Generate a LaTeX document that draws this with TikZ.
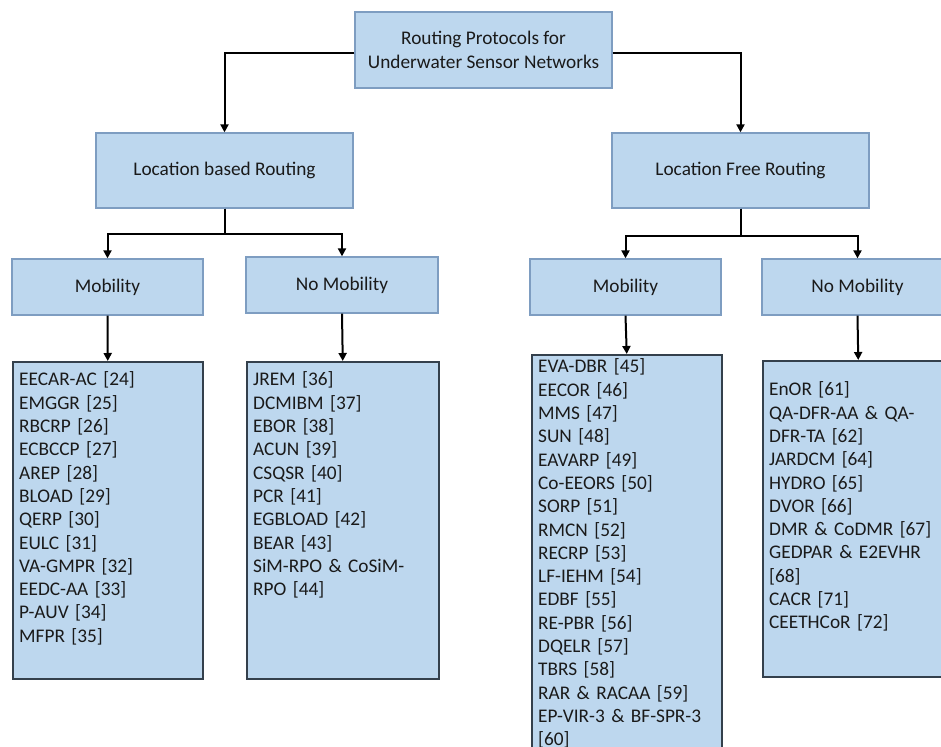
\documentclass[tikz,border=0pt]{standalone}
\usepackage{fontspec}
\setmainfont{Carlito}
\usetikzlibrary{arrows.meta}
\definecolor{boxfill}{HTML}{BDD7EE}
\definecolor{catline}{HTML}{7E9DC1}
\definecolor{listline}{HTML}{34404C}
\definecolor{ink}{HTML}{1A1A1A}
\tikzset{
  base/.style={fill=boxfill, inner sep=0pt, text=ink,
    font=\fontsize{19.3bp}{23.3bp}\selectfont},
  catbox/.style={base, draw=catline, line width=1.3bp, align=center},
  listbox/.style={base, draw=listline, line width=1.5bp},
  listtext/.style={inner sep=0pt, text=ink, anchor=base west, text width=190bp,
    align=left, font=\fontsize{19.3bp}{23.3bp}\selectfont},
  link/.style={line width=2bp, -{Triangle[length=8bp,width=8bp]}},
}
\begin{document}
\begin{tikzpicture}[x=1bp,y=-1bp]
\useasboundingbox (0,0) rectangle (941,747);
\clip (0,0) rectangle (941,747);

% top level
\node[catbox, minimum width=257bp, minimum height=76bp] (root) at (483.5,50)
  {Routing Protocols for\\Underwater Sensor Networks};

% routing families
\node[catbox, minimum width=257bp, minimum height=75bp] (lbr) at (224.5,170.5) {Location based Routing};
\node[catbox, minimum width=257bp, minimum height=75bp] (lfr) at (740.5,170.5) {Location Free Routing};

% mobility classes
\node[catbox, minimum width=191bp, minimum height=56bp] (mobA) at (107.5,287) {Mobility};
\node[catbox, minimum width=192bp, minimum height=56bp] (nomobA) at (342,285) {No Mobility};
\node[catbox, minimum width=191bp, minimum height=56bp] (mobB) at (625.5,287) {Mobility};
\node[catbox, minimum width=191bp, minimum height=56bp] (nomobB) at (857.5,287) {No Mobility};

% protocol lists
\node[listbox, minimum width=190bp, minimum height=317bp, anchor=north west] (listA) at (12,361) {};
\node[listbox, minimum width=192bp, minimum height=317bp, anchor=north west] (listB) at (246,361) {};
\node[listbox, minimum width=190bp, minimum height=440bp, anchor=north west] (listC) at (531,354) {};
\node[listbox, minimum width=191bp, minimum height=316bp, anchor=north west] (listD) at (762,360) {};

\node[listtext] (txtA) at ([xshift=7,yshift=-25]listA.north west)
  {EECAR-AC [24]\\EMGGR [25]\\RBCRP [26]\\ECBCCP [27]\\AREP [28]\\BLOAD [29]\\QERP [30]\\EULC [31]\\VA-GMPR [32]\\EEDC-AA [33]\\P-AUV [34]\\MFPR [35]};
\node[listtext] (txtB) at ([xshift=7,yshift=-25]listB.north west)
  {JREM [36]\\DCMIBM [37]\\EBOR [38]\\ACUN [39]\\CSQSR [40]\\PCR [41]\\EGBLOAD [42]\\BEAR [43]\\SiM-RPO \& CoSiM-\\RPO [44]};
\node[listtext] (txtC) at ([xshift=7,yshift=-19]listC.north west)
  {EVA-DBR [45]\\EECOR [46]\\MMS [47]\\SUN [48]\\EAVARP [49]\\Co-EEORS [50]\\SORP [51]\\RMCN [52]\\RECRP [53]\\LF-IEHM [54]\\EDBF [55]\\RE-PBR [56]\\DQELR [57]\\TBRS [58]\\RAR \& RACAA [59]\\EP-VIR-3 \& BF-SPR-3\\{}[60]};
\node[listtext] (txtD) at ([xshift=7,yshift=-36]listD.north west)
  {EnOR [61]\\QA-DFR-AA \& QA-\\DFR-TA [62]\\JARDCM [64]\\HYDRO [65]\\DVOR [66]\\DMR \& CoDMR [67]\\GEDPAR \& E2EVHR\\{}[68]\\CACR [71]\\CEETHCoR [72]};

% connectors
\draw[link] ([yshift=-3]root.west) -| (lbr.north);
\draw[link] ([yshift=-3]root.east) -| (lfr.north);
\draw[link] (lbr.south) -- ++(0,25) -| (mobA.north);
\draw[link] (lbr.south) -- ++(0,25) -| (nomobA.north);
\draw[link] (lfr.south) -- ++(0,27) -| (mobB.north);
\draw[link] (lfr.south) -- ++(0,27) -| (nomobB.north);
\draw[link] (mobA.south) -- (listA.north);
\draw[link] (nomobA.south) -- (listB.north);
\draw[link] (mobB.south) -- (listC.north);
\draw[link] (nomobB.south) -- (listD.north);
\end{tikzpicture}
\end{document}
